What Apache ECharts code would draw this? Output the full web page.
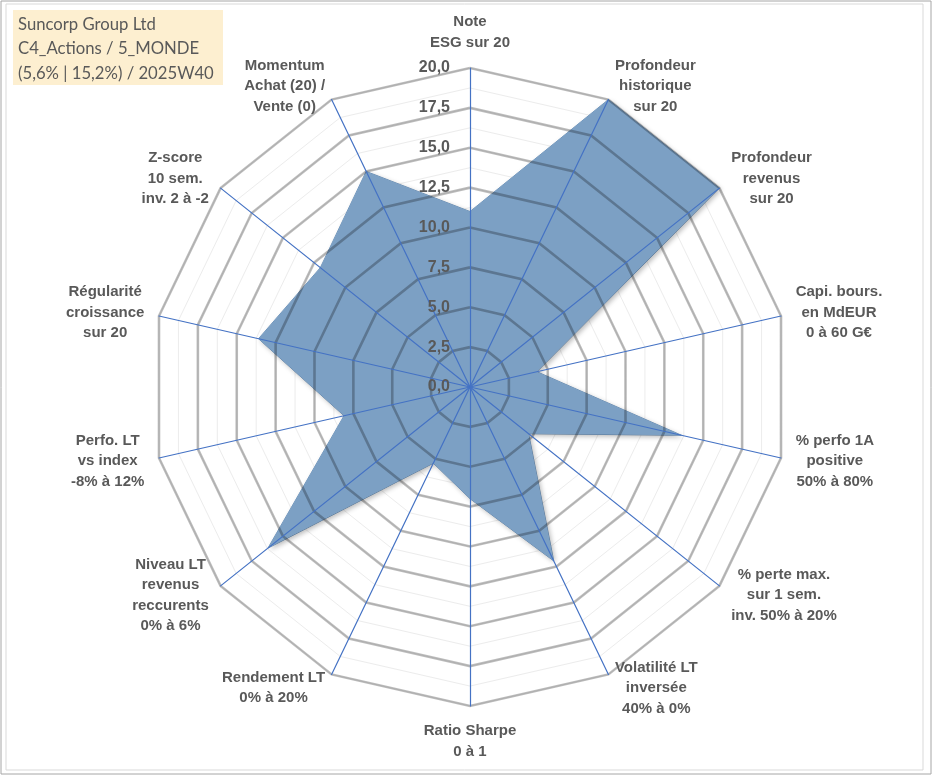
<!DOCTYPE html>
<html>
<head>
<meta charset="utf-8">
<title>Suncorp Group Ltd - radar</title>
<script src="https://cdn.jsdelivr.net/npm/echarts@6/dist/echarts.min.js"></script>
<style>
  html, body { margin: 0; height: 100%; background: #fff; }
  #chart { width: 933px; height: 776px; }
</style>
</head>
<body>
<div id="chart"></div>
<script>
// axes, clockwise from the top as in the sheet
var indicatorNames = [
  'Note\nESG sur 20',
  'Profondeur\nhistorique\nsur 20',
  'Profondeur\nrevenus\nsur 20',
  'Capi. bours.\nen MdEUR\n0 à 60 G€',
  '% perfo 1A\npositive\n50% à 80%',
  '% perte max.\nsur 1 sem.\ninv. 50% à 20%',
  'Volatilité LT\ninversée\n40% à 0%',
  'Ratio Sharpe\n0 à 1',
  'Rendement LT\n0% à 20%',
  'Niveau LT\nrevenus\nreccurents\n0% à 6%',
  'Perfo. LT\nvs index\n-8% à 12%',
  'Régularité\ncroissance\nsur 20',
  'Z-score\n10 sem.\ninv. 2 à -2',
  'Momentum\nAchat (20) /\nVente (0)'
];
var scores = [11.0, 20, 20, 4.3, 13.6, 4.7, 12.1, 7.0, 5.3, 16.2, 8.1, 13.6, 12.0, 15.0];
var scaleMin = 0;
var scaleMax = 20;
var majorSplits = 8;   // 2,5 steps
var minorSplits = 16;
var titleLines = ['Suncorp Group Ltd', 'C4_Actions / 5_MONDE', '(5,6% | 15,2%) / 2025W40'];

// echarts lays indicators out counter-clockwise, so keep the first and reverse the rest
var order = [0];
for (var i = indicatorNames.length - 1; i > 0; i--) order.push(i);

function makeIndicators(withLabel) {
  return order.map(function (k, n) {
    var ind = { name: indicatorNames[k], min: scaleMin, max: scaleMax };
    if (withLabel && n === 0) ind.axisLabel = { show: true };
    return ind;
  });
}
var values = order.map(function (k) { return scores[k]; });

var txt = '#595959';
var base = { center: [470, 387], radius: 319, startAngle: 90, shape: 'polygon' };

function radar(extra) {
  return Object.assign({}, base, {
    splitArea: { show: false },
    axisTick: { show: false },
    axisLabel: { show: false },
    axisLine: { show: false },
    splitLine: { show: false },
    axisName: { show: false }
  }, extra);
}

var chart = echarts.init(document.getElementById('chart'));
chart.setOption({
  backgroundColor: '#fff',
  animation: false,
  graphic: [
    { type: 'rect', shape: { x: 1, y: 1, width: 930, height: 773 },
      style: { fill: 'none', stroke: '#a6a6a6', lineWidth: 1 }, z: -10 },
    { type: 'rect', shape: { x: 6, y: 4, width: 917, height: 766 },
      style: { fill: 'none', stroke: '#d9d9d9', lineWidth: 1 }, z: -10 },
    { type: 'rect', shape: { x: 13, y: 10, width: 210, height: 75 },
      style: { fill: '#fdefd0' }, z: 10 },
    { type: 'text', left: 18, top: 12, z: 11,
      style: { text: titleLines.join('\n'), fill: txt, font: '16.7px Lato', lineHeight: 24.5 } }
  ],
  radar: [
    // faint half steps, under the area
    radar({
      indicator: makeIndicators(false),
      splitNumber: minorSplits,
      splitLine: { show: true, lineStyle: { color: '#ececec', width: 1 } },
      z: 0
    }),
    // main rings, see-through so they darken over the area
    radar({
      indicator: makeIndicators(false),
      splitNumber: majorSplits,
      splitLine: { show: true, lineStyle: { color: 'rgba(0,0,0,0.26)', width: 2.6 } },
      z: 3
    }),
    radar({
      indicator: makeIndicators(true),
      splitNumber: majorSplits,
      axisLine: { show: true, lineStyle: { color: '#4472c4', width: 1.2 } },
      axisLabel: {
        show: false, margin: 20, color: txt, fontWeight: 'bold', fontSize: 16,
        fontFamily: 'Liberation Sans',
        formatter: function (v) { return v.toFixed(1).replace('.', ','); }
      },
      axisNameGap: 15,
      axisName: {
        show: true,
        formatter: function (name) {
          return name.split('\n').map(function (l) { return '{c|' + l + '}'; }).join('\n');
        },
        rich: {
          c: { align: 'center', color: txt, fontWeight: 'bold', fontSize: 15,
               fontFamily: 'Liberation Sans', lineHeight: 20.5 }
        }
      },
      z: 4
    })
  ],
  series: [{
    type: 'radar',
    radarIndex: 1,
    symbol: 'none',
    z: 2,
    lineStyle: { color: '#7097c0', width: 1 },
    areaStyle: {
      color: '#7ca0c4', opacity: 1,
      shadowColor: 'rgba(0,0,0,0.28)', shadowBlur: 5, shadowOffsetX: 2, shadowOffsetY: 2
    },
    data: [{ value: values, name: titleLines[0] }]
  }]
});
</script>
</body>
</html>
